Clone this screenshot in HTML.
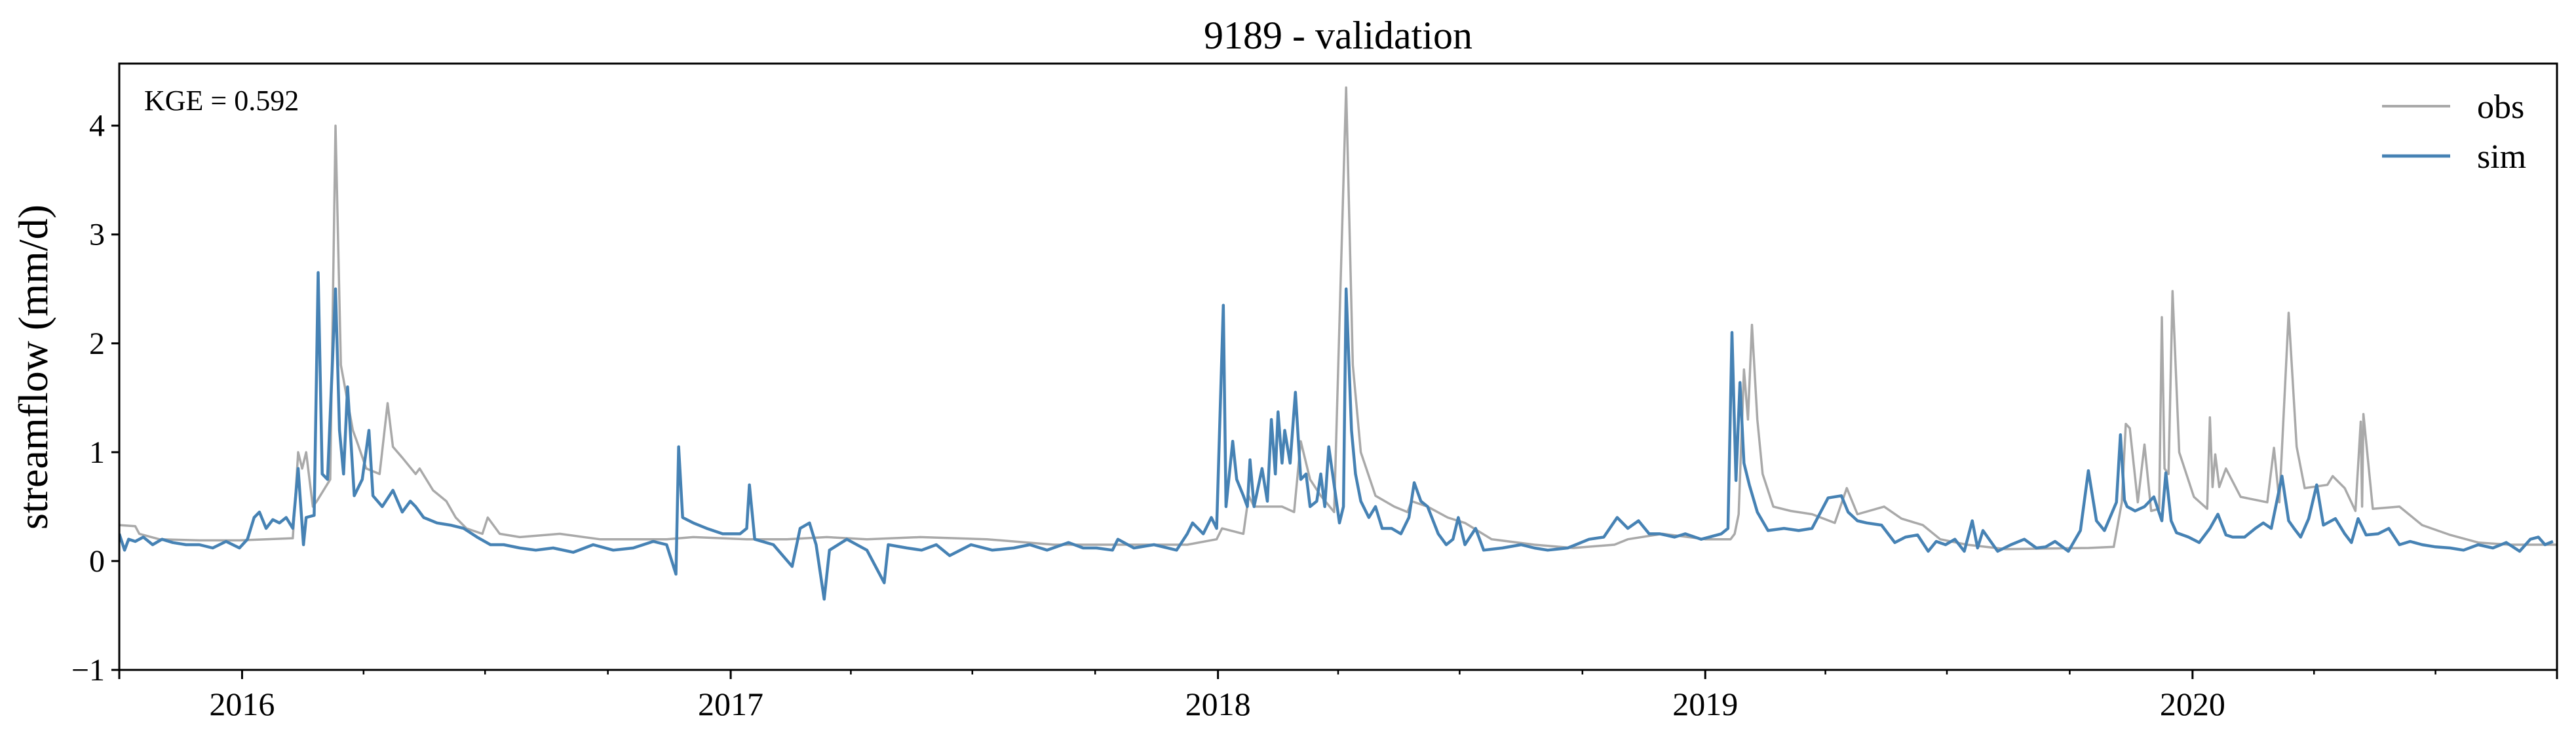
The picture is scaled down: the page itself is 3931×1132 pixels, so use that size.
<!DOCTYPE html>
<html><head><meta charset="utf-8"><style>
html,body{margin:0;padding:0;background:#fff;}
svg{display:block;font-family:"Liberation Serif",serif;}
</style></head><body>
<svg id="chart" width="3931" height="1132" viewBox="0 0 3931 1132">
<rect width="3931" height="1132" fill="#fff"/>
<text x="2042" y="74" font-size="60" text-anchor="middle">9189 - validation</text>
<g id="plot"></g>
<text x="220" y="168" font-size="44">KGE = 0.592</text>
<text transform="translate(72,560) rotate(-90)" font-size="64" text-anchor="middle">streamflow (mm/d)</text>
<g>
<line x1="3635" y1="162" x2="3739" y2="162" stroke="#a9a9a9" stroke-width="4"/>
<text x="3780" y="180" font-size="52">obs</text>
<line x1="3635" y1="238" x2="3739" y2="238" stroke="#4682b4" stroke-width="5"/>
<text x="3780" y="256" font-size="52">sim</text>
</g>
</svg>
<script>
// day offsets from 2015-10-01
const obsDays=[0,12,15,30,60,90,110,130,134,137,140,143,145,148,158,162,166,175,178,185,195,201,205,212,222,225,235,245,252,260,272,276,285,300,330,360,380,410,430,470,500,530,560,600,650,700,750,800,822,826,842,846,850,871,880,885,892,900,910,919,924,930,941,955,965,968,980,995,1008,1028,1060,1089,1120,1130,1156,1188,1207,1210,1213,1217,1220,1223,1227,1231,1239,1252,1268,1285,1294,1302,1322,1335,1351,1364,1384,1413,1475,1494,1500,1503,1506,1512,1517,1522,1528,1530,1532,1535,1538,1543,1554,1564,1566,1568,1570,1573,1578,1589,1609,1614,1618,1625,1631,1637,1654,1658,1667,1675,1679,1680,1681,1688,1708,1725,1746,1767,1790,1823,1826];
const obsVals=[0.33,0.32,0.25,0.2,0.19,0.19,0.2,0.21,1.0,0.85,1.0,0.7,0.5,0.55,0.75,4.0,1.8,1.2,1.1,0.85,0.8,1.45,1.05,0.95,0.8,0.85,0.65,0.55,0.4,0.3,0.25,0.4,0.25,0.22,0.25,0.2,0.2,0.2,0.22,0.2,0.2,0.22,0.2,0.22,0.2,0.15,0.15,0.15,0.2,0.3,0.25,0.6,0.5,0.5,0.45,1.1,0.75,0.6,0.45,4.35,1.8,1.0,0.6,0.5,0.45,0.55,0.5,0.4,0.35,0.2,0.15,0.12,0.15,0.2,0.25,0.2,0.2,0.25,0.43,1.76,1.3,2.17,1.3,0.8,0.5,0.46,0.43,0.35,0.67,0.43,0.5,0.39,0.33,0.2,0.15,0.11,0.12,0.13,0.54,1.26,1.22,0.54,1.07,0.46,0.48,2.24,0.85,0.8,2.48,1.0,0.59,0.48,1.32,0.68,0.98,0.68,0.85,0.59,0.54,1.04,0.54,2.28,1.05,0.67,0.7,0.78,0.67,0.46,1.28,0.5,1.35,0.48,0.5,0.33,0.24,0.17,0.15,0.15,0.15];
const simDays=[0,4,7,12,18,25,32,40,50,60,70,80,90,96,101,105,110,115,120,125,130,134,138,140,146,149,152,156,162,165,168,171,176,182,187,190,197,205,212,218,222,228,238,248,258,268,278,288,300,312,325,340,355,370,385,400,410,417,419,422,430,440,452,465,470,472,476,490,504,510,517,522,528,532,545,560,573,576,590,601,612,622,638,654,670,682,695,711,722,732,744,748,760,775,792,800,804,812,818,822,827,829,834,837,842,845,847,850,856,860,863,866,868,871,873,877,881,885,889,892,897,900,903,906,910,914,917,919,923,926,930,936,941,946,953,960,966,970,975,980,988,994,999,1003,1008,1016,1022,1036,1050,1060,1070,1085,1101,1112,1122,1130,1138,1146,1154,1165,1173,1185,1200,1205,1208,1211,1214,1217,1221,1227,1235,1247,1258,1268,1280,1290,1295,1302,1309,1320,1330,1338,1347,1355,1361,1368,1375,1382,1388,1392,1396,1407,1417,1427,1436,1443,1450,1460,1469,1475,1481,1487,1496,1499,1502,1504,1510,1517,1524,1530,1533,1537,1541,1550,1558,1566,1572,1578,1583,1592,1600,1606,1612,1620,1625,1629,1634,1640,1646,1651,1654,1660,1667,1672,1677,1683,1692,1700,1708,1716,1725,1735,1746,1756,1767,1778,1788,1798,1806,1812,1817,1823,1826];
const simVals=[0.25,0.1,0.2,0.18,0.22,0.15,0.2,0.17,0.15,0.15,0.12,0.18,0.12,0.2,0.4,0.45,0.3,0.38,0.35,0.4,0.3,0.85,0.15,0.4,0.42,2.65,0.8,0.75,2.5,1.2,0.8,1.6,0.6,0.75,1.2,0.6,0.5,0.65,0.45,0.55,0.5,0.4,0.35,0.33,0.3,0.22,0.15,0.15,0.12,0.1,0.12,0.08,0.15,0.1,0.12,0.18,0.15,-0.12,1.05,0.4,0.35,0.3,0.25,0.25,0.3,0.7,0.2,0.15,-0.05,0.3,0.35,0.15,-0.35,0.1,0.2,0.1,-0.2,0.15,0.12,0.1,0.15,0.05,0.15,0.1,0.12,0.15,0.1,0.17,0.12,0.12,0.1,0.2,0.12,0.15,0.1,0.25,0.35,0.25,0.4,0.3,2.35,0.5,1.1,0.75,0.6,0.5,0.93,0.5,0.85,0.55,1.3,0.8,1.37,0.9,1.2,0.9,1.55,0.75,0.8,0.5,0.55,0.8,0.5,1.05,0.7,0.35,0.5,2.5,1.2,0.8,0.55,0.4,0.5,0.3,0.3,0.25,0.4,0.72,0.55,0.5,0.25,0.15,0.2,0.4,0.15,0.3,0.1,0.12,0.15,0.12,0.1,0.12,0.2,0.22,0.4,0.3,0.37,0.25,0.25,0.22,0.25,0.2,0.25,0.3,2.1,0.74,1.64,0.9,0.7,0.45,0.28,0.3,0.28,0.3,0.58,0.6,0.45,0.37,0.35,0.33,0.17,0.22,0.24,0.09,0.18,0.15,0.2,0.09,0.37,0.12,0.28,0.09,0.15,0.2,0.12,0.13,0.18,0.09,0.28,0.83,0.37,0.28,0.54,1.16,0.56,0.5,0.46,0.5,0.59,0.37,0.81,0.37,0.26,0.22,0.17,0.3,0.43,0.24,0.22,0.22,0.3,0.35,0.3,0.78,0.37,0.3,0.22,0.39,0.7,0.33,0.35,0.39,0.25,0.17,0.39,0.24,0.25,0.3,0.15,0.18,0.15,0.13,0.12,0.1,0.15,0.12,0.17,0.09,0.2,0.22,0.15,0.18];
const yTicks=[-1,0,1,2,3,4];
const yearLabels=["2016","2017","2018","2019","2020"];
const yearDays=[92,458,823,1188,1553];
const quarterDays=[0,183,274,366,548,639,731,913,1004,1096,1278,1369,1461,1644,1735,1826];

const L=182,R=3902,T=97,B=1022,D0=0,D1=1826,Y0=-1,Y1=4.57;
const xs=d=>L+(d-D0)/(D1-D0)*(R-L);
const ys=v=>B-(v-Y0)/(Y1-Y0)*(B-T);
const NS="http://www.w3.org/2000/svg";
const plot=document.getElementById('plot');
function mk(tag,attrs){const e=document.createElementNS(NS,tag);for(const k in attrs)e.setAttribute(k,attrs[k]);plot.appendChild(e);return e;}

const cp=mk('clipPath',{id:'clip'});const cr=document.createElementNS(NS,'rect');
cr.setAttribute('x',L);cr.setAttribute('y',T);cr.setAttribute('width',R-L);cr.setAttribute('height',B-T);cp.appendChild(cr);

function line(days,vals,color,w,name){
  const d=days.map((dd,i)=>(i?'L':'M')+xs(dd).toFixed(1)+','+ys(vals[i]).toFixed(1)).join('');
  const p=mk('path',{d:d,fill:'none',stroke:color,'stroke-width':w,'stroke-linejoin':'round','clip-path':'url(#clip)'});
  
  
}
line(obsDays,obsVals,'#a9a9a9',3.5,'obs-series-line');
line(simDays,simVals,'#4682b4',4.5,'sim-series-line');

const frame=mk('rect',{x:L,y:T,width:R-L,height:B-T,fill:'none',stroke:'#000','stroke-width':3});



yTicks.forEach(v=>{
  const y=ys(v);
  const t=mk('line',{x1:L-12,x2:L,y1:y,y2:y,stroke:'#000','stroke-width':3});
  
  
  const lb=mk('text',{x:L-22,y:y+16,'font-size':48,'text-anchor':'end'});
  lb.textContent=v<0?'\u2212'+Math.abs(v):String(v);
  
  
});
quarterDays.forEach(d=>{
  const x=xs(d);
  const t=mk('line',{x1:x,x2:x,y1:B,y2:B+7,stroke:'#000','stroke-width':2.5});
  
  
});
[0,D1].forEach(d=>{
  const t=mk('line',{x1:xs(d),x2:xs(d),y1:B,y2:B+14,stroke:'#000','stroke-width':3});
  
  
});
yearDays.forEach((d,i)=>{
  const x=xs(d);
  const t=mk('line',{x1:x,x2:x,y1:B,y2:B+14,stroke:'#000','stroke-width':3});
  
  
  const lb=mk('text',{x:x,y:1091,'font-size':50,'text-anchor':'middle'});
  lb.textContent=yearLabels[i];
  
  
});
</script>
</body></html>
